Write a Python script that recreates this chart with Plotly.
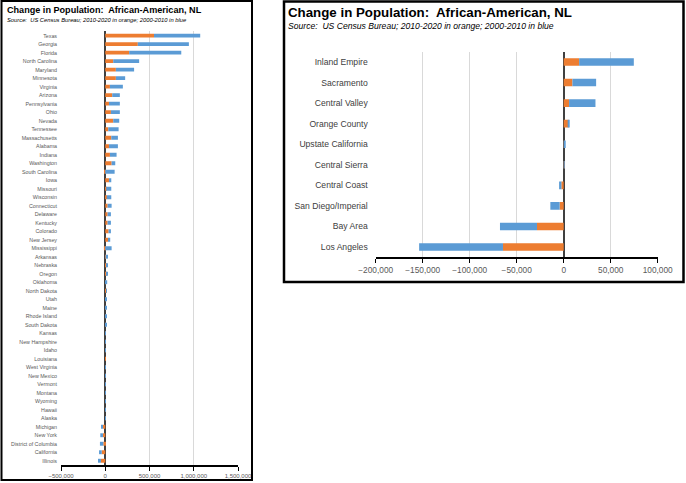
import plotly.graph_objects as go

W, H = 686, 483

# ---------------- DATA ----------------
states = ["Texas", "Georgia", "Florida", "North Carolina", "Maryland", "Minnesota",
          "Virginia", "Arizona", "Pennsylvania", "Ohio", "Nevada", "Tennessee",
          "Massachusetts", "Alabama", "Indiana", "Washington", "South Carolina", "Iowa",
          "Missouri", "Wisconsin", "Connecticut", "Delaware", "Kentucky", "Colorado",
          "New Jersey", "Mississippi", "Arkansas", "Nebraska", "Oregon", "Oklahoma",
          "North Dakota", "Utah", "Maine", "Rhode Island", "South Dakota", "Kansas",
          "New Hampshire", "Idaho", "Louisiana", "West Virginia", "New Mexico", "Vermont",
          "Montana", "Wyoming", "Hawaii", "Alaska", "Michigan", "New York",
          "District of Columbia", "California", "Illinois"]
state_2010_2020 = [551000, 368000, 270000, 90000, 120000, 120000,
                   53000, 79000, 42000, 64000, 90000, 34000,
                   68000, 42000, 53000, 72000, -11000, 42000,
                   11000, 17000, 27000, 27000, 27000, 38000,
                   34000, -15000, 3000, 10000, 10000, 5000,
                   15000, 8000, 6000, 4000, 5000, 1000,
                   3000, 2000, 3000, 500, 500, 500,
                   500, 300, 300, 300, -26000, -26000,
                   -22000, -40000, -49000]
state_2000_2010 = [522000, 577000, 589000, 293000, 206000, 105000,
                   146000, 86000, 123000, 101000, 68000, 117000,
                   75000, 101000, 75000, 41000, 106000, 26000,
                   57000, 51000, 45000, 37000, 37000, 26000,
                   22000, 72000, 28000, 12000, 12000, 17000,
                   3000, 9000, 8000, 8000, 6000, 4000,
                   4000, 3000, 0, 500, 500, 300,
                   300, 300, 300, 300, -14000, -30000,
                   -38000, -30000, -33000]

regions = ["Inland Empire", "Sacramento", "Central Valley", "Orange County",
           "Upstate California", "Central Sierra", "Central Coast",
           "San Diego/Imperial", "Bay Area", "Los Angeles"]
region_2010_2020 = [16400, 9300, 5700, 5300, 300, 100, -2500, -4300, -28400, -64600]
region_2000_2010 = [58200, 25200, 28100, 1100, 1500, 100, -2400, -9900, -39400, -89200]

left_ticks = [-500000, 0, 500000, 1000000, 1500000]
right_ticks = [-200000, -150000, -100000, -50000, 0, 50000, 100000]

title_text = "Change in Population:  African-American, NL"
subtitle_text = "Source:  US Census Bureau; 2010-2020 in orange; 2000-2010 in blue"

ORANGE = "#ED7D31"
BLUE = "#5B9BD5"
GRID = "#D9D9D9"
TXT = "#595959"
FONT = "Liberation Sans"


def px(x):
    return x / W


def py(y):
    return 1 - y / H


fig = go.Figure()

fig.add_trace(go.Bar(y=states, x=state_2010_2020, orientation="h", marker_color=ORANGE,
                     marker_line_width=0, width=0.46, xaxis="x", yaxis="y"))
fig.add_trace(go.Bar(y=states, x=state_2000_2010, orientation="h", marker_color=BLUE,
                     marker_line_width=0, width=0.46, xaxis="x", yaxis="y"))
fig.add_trace(go.Bar(y=regions, x=region_2010_2020, orientation="h", marker_color=ORANGE,
                     marker_line_width=0, width=0.37, xaxis="x2", yaxis="y2"))
fig.add_trace(go.Bar(y=regions, x=region_2000_2010, orientation="h", marker_color=BLUE,
                     marker_line_width=0, width=0.37, xaxis="x2", yaxis="y2"))

axis_common = dict(showline=True, linecolor="black", linewidth=1.5, ticks="outside",
                   tickcolor="black", ticklen=4, tickwidth=1, showgrid=True,
                   gridcolor=GRID, gridwidth=1, zeroline=True, zerolinecolor="#404040",
                   zerolinewidth=1.5, tickformat=",", fixedrange=True, automargin=False)

fig.update_layout(
    width=W, height=H,
    margin=dict(l=0, r=0, t=0, b=0, pad=0, autoexpand=False),
    paper_bgcolor="white", plot_bgcolor="white",
    barmode="relative", showlegend=False,
    font=dict(family=FONT, color=TXT),
    xaxis=dict(domain=[px(61), px(238)], anchor="y", range=[-500000, 1500000],
               tickvals=left_ticks, tickfont=dict(size=6, color=TXT), **axis_common),
    yaxis=dict(domain=[py(465), py(31.4)], anchor="x", autorange="reversed",
               showgrid=False, showline=False, ticks="", tickfont=dict(size=5.3, color=TXT),
               ticklabelstandoff=3, fixedrange=True, automargin=False),
    xaxis2=dict(domain=[px(375.7), px(657.7)], anchor="y2", range=[-200000, 100000],
                tickvals=right_ticks, tickfont=dict(size=8.3, color=TXT), **axis_common),
    yaxis2=dict(domain=[py(257.3), py(51.7)], anchor="x2", autorange="reversed",
                showgrid=False, showline=False, ticks="", tickfont=dict(size=8.6, color="#404040"),
                ticklabelstandoff=7, fixedrange=True, automargin=False),
)

annotations = [
    dict(text="<b>" + title_text + "</b>", x=px(5), y=py(9.5), xref="paper", yref="paper",
         xanchor="left", yanchor="middle", showarrow=False,
         font=dict(size=9.1, color="black", family=FONT)),
    dict(text="<i>" + subtitle_text + "</i>", x=px(5), y=py(19.5), xref="paper", yref="paper",
         xanchor="left", yanchor="middle", showarrow=False,
         font=dict(size=5.8, color="black", family=FONT)),
    dict(text="<b>" + title_text + "</b>", x=px(286), y=py(12.5), xref="paper", yref="paper",
         xanchor="left", yanchor="middle", showarrow=False,
         font=dict(size=13.3, color="black", family=FONT)),
    dict(text="<i>" + subtitle_text + "</i>", x=px(286), y=py(26), xref="paper", yref="paper",
         xanchor="left", yanchor="middle", showarrow=False,
         font=dict(size=8.6, color="black", family=FONT)),
]
fig.update_layout(annotations=annotations)

shapes = [
    dict(type="rect", xref="paper", yref="paper", x0=px(1.5), y0=py(480), x1=px(252), y1=py(1),
         line=dict(color="black", width=2)),
    dict(type="rect", xref="paper", yref="paper", x0=px(284), y0=py(282), x1=px(683.5), y1=py(1.5),
         line=dict(color="black", width=2.5)),
]
fig.update_layout(shapes=shapes)

fig.write_html("out.html", config={"displayModeBar": False},
               post_script="document.body.style.margin='0';document.body.style.overflow='hidden';")
